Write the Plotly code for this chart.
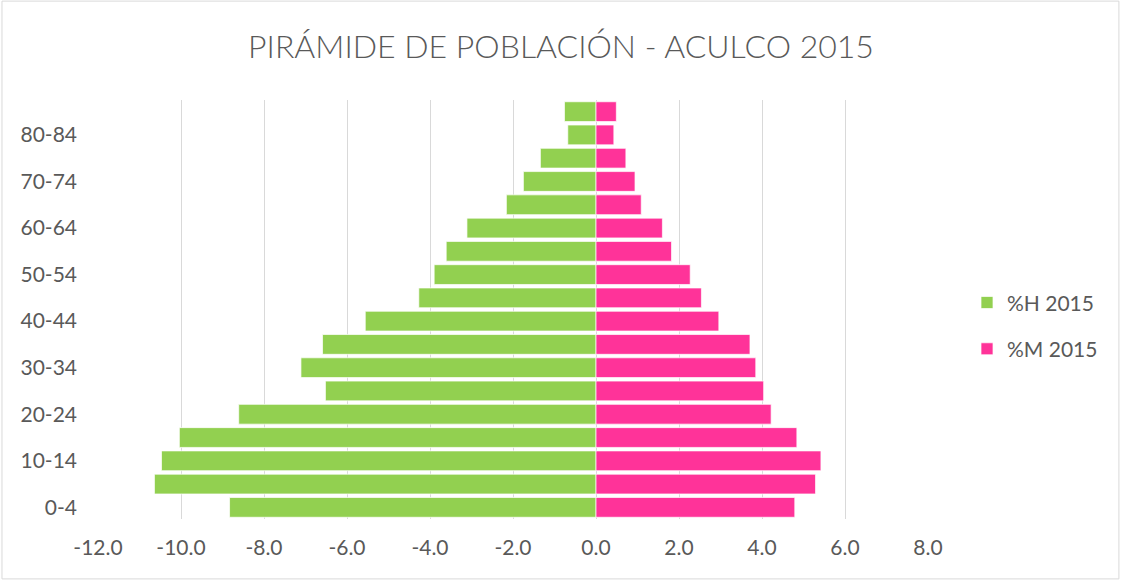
import plotly.graph_objects as go

age_groups = ["0-4", "5-9", "10-14", "15-19", "20-24", "25-29", "30-34", "35-39",
              "40-44", "45-49", "50-54", "55-59", "60-64", "65-69", "70-74", "75-79",
              "80-84", "85+"]
hombres_2015 = [-8.83, -10.64, -10.47, -10.04, -8.61, -6.52, -7.11, -6.59,
                -5.56, -4.27, -3.90, -3.61, -3.11, -2.16, -1.75, -1.34, -0.68, -0.76]
mujeres_2015 = [4.79, 5.29, 5.42, 4.84, 4.22, 4.04, 3.85, 3.71,
                2.96, 2.54, 2.27, 1.82, 1.60, 1.09, 0.94, 0.72, 0.43, 0.49]
x_ticks = [-12, -10, -8, -6, -4, -2, 0, 2, 4, 6, 8]
x_tick_labels = ["-12.0", "-10.0", "-8.0", "-6.0", "-4.0", "-2.0", "0.0", "2.0", "4.0", "6.0", "8.0"]
y_tick_labels = ["0-4", "10-14", "20-24", "30-34", "40-44", "50-54", "60-64", "70-74", "80-84"]

TEXT = "#595959"
FONT = "Lato"

fig = go.Figure()
fig.add_trace(go.Bar(
    y=age_groups, x=hombres_2015, orientation="h", name="%H 2015",
    marker=dict(color="#92D050", line=dict(color="rgba(255,255,255,0.7)", width=1)),
    legendgroup="h",
))
fig.add_trace(go.Bar(
    y=age_groups, x=mujeres_2015, orientation="h", name="%M 2015",
    marker=dict(color="#FF3399", line=dict(color="rgba(255,255,255,0.7)", width=1)),
    legendgroup="m",
))

fig.update_layout(
    width=1122, height=581,
    barmode="relative", bargap=0.15,
    paper_bgcolor="white", plot_bgcolor="white",
    margin=dict(l=98, r=194, t=100, b=62),
    font=dict(family=FONT, color=TEXT, size=21),
    title=dict(text="PIRÁMIDE DE POBLACIÓN - ACULCO 2015", x=0.5, xref="container",
               xanchor="center", y=0.919, yref="container", yanchor="middle",
               font=dict(family=FONT, size=32, color=TEXT, weight=300)),
    legend=dict(x=1.047, y=0.461, xanchor="left", yanchor="middle",
                traceorder="grouped", tracegroupgap=16,
                font=dict(size=21, color=TEXT), itemwidth=30),
    xaxis=dict(range=[-12, 8], tickvals=x_ticks, ticktext=x_tick_labels,
               showgrid=True, gridcolor="#D9D9D9", gridwidth=1.3,
               zeroline=False, showline=False, ticks="",
               ticklabelstandoff=14, tickfont=dict(size=21, color=TEXT)),
    yaxis=dict(type="category", tickvals=y_tick_labels, ticktext=y_tick_labels,
               showgrid=False, zeroline=False, showline=False, ticks="",
               ticklabelstandoff=20, tickfont=dict(size=21, color=TEXT)),
    shapes=[dict(type="rect", xref="paper", yref="paper", x0=-0.1157, x1=1.230, y0=-0.143, y1=1.236,
                 line=dict(color="#D9D9D9", width=1), fillcolor="rgba(0,0,0,0)", layer="below")],
)

fig.write_html("out.html", config={"displayModeBar": False},
               post_script="document.body.style.margin='0';")
